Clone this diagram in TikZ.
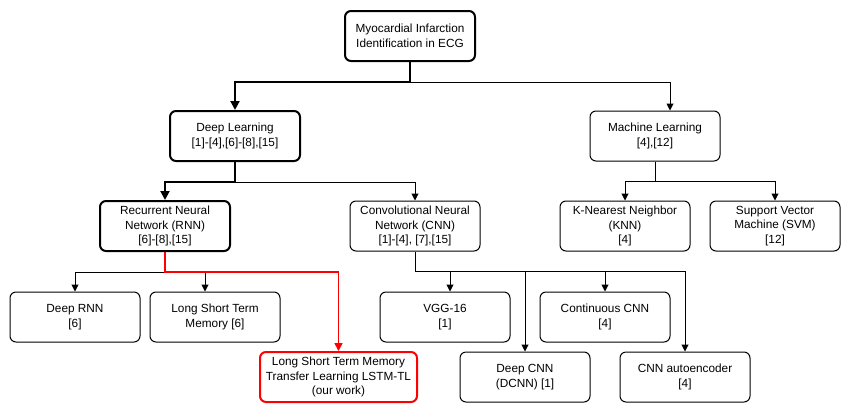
\documentclass[tikz,border=0pt]{standalone}
\usepackage{fontspec}
\setmainfont{Liberation Sans}
\usetikzlibrary{arrows.meta}

\tikzset{
    box/.style={draw, rounded corners=6pt, line width=1pt, minimum width=130pt, minimum height=50pt, align=center, inner sep=2pt, font=\fontsize{11.8}{14.5}\selectfont},
    boldbox/.style={box, line width=2pt},
    redbox/.style={box, draw=red, line width=2pt},
    thinline/.style={line width=1pt, -{Triangle[length=7pt, width=7pt]}},
    boldline/.style={line width=2pt, -{Triangle[length=9pt, width=9pt]}},
    redline/.style={line width=1.6pt, red, -{Triangle[length=8pt, width=8pt]}},
}

\begin{document}
\begin{tikzpicture}[x=1pt, y=-1pt]
    \useasboundingbox (0,0) rectangle (851,413);

    % top levels
    \node[boldbox] (root) at (410,36) {Myocardial Infarction\\Identification in ECG};
    \node[boldbox] (dl) at (235,136) {Deep Learning\\{[1]-[4],[6]-[8],[15]}};
    \node[box] (ml) at (655,136) {Machine Learning\\{[4],[12]}};

    \node[boldbox] (rnn) at (165,226) {Recurrent Neural\\Network (RNN)\\{[6]-[8],[15]}};
    \node[box] (cnn) at (415,226) {Convolutional Neural\\Network (CNN)\\{[1]-[4], [7],[15]}};
    \node[box] (knn) at (625,226) {K-Nearest Neighbor\\(KNN)\\{[4]}};
    \node[box] (svm) at (775,226) {Support Vector\\Machine (SVM)\\{[12]}};

    % leaves
    \node[box] (drnn) at (75,317) {Deep RNN\\{[6]}};
    \node[box] (lstm) at (215,317) {Long Short Term\\Memory [6]};
    \node[redbox, minimum width=157pt] (lstmtl) at (338.5,377) {Long Short Term Memory\\Transfer Learning LSTM-TL\\(our work)};
    \node[box] (vgg) at (445,317) {VGG-16\\{[1]}};
    \node[box] (ccnn) at (605,317) {Continuous CNN\\{[4]}};
    \node[box] (dcnn) at (525,377) {Deep CNN\\(DCNN) [1]};
    \node[box] (cae) at (685,377) {CNN autoencoder\\{[4]}};

    % connectors
    \draw[thinline] (root.south) ++(0,20) coordinate (r1) -| ([xshift=15pt]ml.north);
    \draw[boldline] (root.south) -- (r1) -| (dl.north);

    \draw[thinline] (dl.south) ++(0,20) coordinate (d1) -| (cnn.north);
    \draw[boldline] (dl.south) -- (d1) -| (rnn.north);

    \draw[line width=1pt] (ml.south) -- ++(0,20) coordinate (m1);
    \draw[thinline] (m1) -| (knn.north);
    \draw[thinline] (m1) -| (svm.north);

    \draw (rnn.south) ++(0,20) coordinate (n1);
    \draw[thinline] (n1) -| (drnn.north);
    \draw[thinline] (n1) -| ([xshift=-10pt]lstm.north);
    \draw[redline] (rnn.south) -- (n1) -| (lstmtl.north);

    \draw[line width=1pt] (cnn.south) -- ++(0,20) coordinate (c1);
    \draw[thinline] (c1) -| ([xshift=5pt]vgg.north);
    \draw[thinline] (c1) -| (dcnn.north);
    \draw[thinline] (c1) -| (ccnn.north);
    \draw[thinline] (c1) -| (cae.north);
\end{tikzpicture}
\end{document}
